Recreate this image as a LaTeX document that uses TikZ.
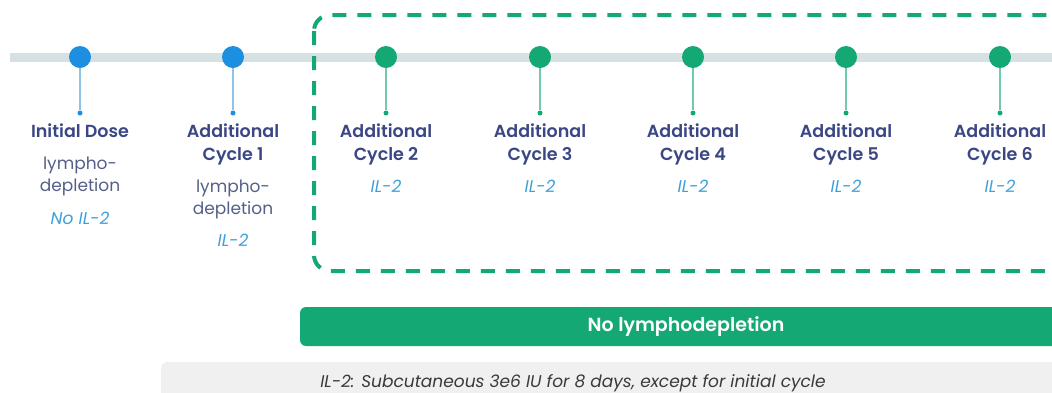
\documentclass[tikz,border=0pt]{standalone}
\usepackage{fontspec}
\setmainfont{Poppins}[BoldFont={Poppins SemiBold}]
\definecolor{bar}{HTML}{D6E1E4}
\definecolor{bluedot}{HTML}{1C8FE0}
\definecolor{greendot}{HTML}{14A874}
\definecolor{bluestem}{HTML}{8CC4EC}
\definecolor{greenstem}{HTML}{6FCBA8}
\definecolor{navy}{HTML}{3A4784}
\definecolor{bodytxt}{HTML}{55608A}
\definecolor{iltxt}{HTML}{3EA0DA}
\definecolor{notebg}{HTML}{F0F0F0}
\definecolor{notetxt}{HTML}{3A3A3A}
\tikzset{
  bigdot/.style={circle, inner sep=0pt, minimum size=22pt},
  smalldot/.style={circle, inner sep=0pt, minimum size=5pt},
  ttl/.style={anchor=base, inner sep=0pt, text=navy, font=\fontsize{17.5}{20}\selectfont\bfseries},
  bdy/.style={anchor=base, inner sep=0pt, text=bodytxt, font=\fontsize{17}{20}\selectfont},
  ilt/.style={anchor=base, inner sep=0pt, text=iltxt, font=\fontsize{17}{20}\selectfont\itshape},
}
\begin{document}
\begin{tikzpicture}[x=1pt,y=-1pt]
\useasboundingbox (0,0) rectangle (1052,392);
\clip (0,0) rectangle (1052,392);
% timeline bar
\coordinate (barL) at (10,57);
\coordinate (barR) at (1060,57);
\draw[bar, line width=9pt] (barL) -- (barR);
% dashed box
\draw[greendot, line width=4pt, dash pattern=on 14pt off 11pt, rounded corners=16pt]
  (314,15) rectangle (1080,271);
% dots and stems
\foreach \i/\x/\c/\s in {0/80/bluedot/bluestem,1/233/bluedot/bluestem,2/386/greendot/greenstem,3/540/greendot/greenstem,4/693/greendot/greenstem,5/846/greendot/greenstem,6/1000/greendot/greenstem}{
  \node[smalldot, fill=\c] (s\i) at (\x,113) {};
  \draw[\s, line width=1.3pt] (\x,57) -- (s\i);
  \node[bigdot, fill=\c] (d\i) at (\x,57) {};
}
% labels
\node[ttl] (t0) at (80,137) {Initial Dose};
\node[bdy] (b0a) at (80,169) {lympho-};
\node[bdy] (b0b) at (80,191) {depletion};
\node[ilt] (i0) at (80,224) {No IL-2};
\node[ttl] (t1a) at (233,137) {Additional};
\node[ttl] (t1b) at (233,160) {Cycle 1};
\node[bdy] (b1a) at (233,192) {lympho-};
\node[bdy] (b1b) at (233,214) {depletion};
\node[ilt] (i1) at (233,246) {IL-2};
\foreach \i/\x in {2/386,3/540,4/693,5/846,6/1000}{
  \node[ttl] (t\i a) at (\x,137) {Additional};
  \node[ttl] (t\i b) at (\x,160) {Cycle \i};
  \node[ilt] (i\i) at (\x,192) {IL-2};
}
% green bar
\fill[greendot, rounded corners=6pt] (300,307) rectangle (1080,346);
\node[text=white, font=\fontsize{19}{22}\selectfont\bfseries, inner sep=0pt] (nolymph) at (686,327) {No lymphodepletion};
% note box
\fill[notebg, rounded corners=6pt] (161,362) rectangle (1080,410);
\node[text=notetxt, font=\fontsize{17}{20}\selectfont\itshape, inner sep=0pt, anchor=base] (note) at (573,387) {IL-2: Subcutaneous 3e6 IU for 8 days, except for initial cycle};
\end{tikzpicture}
\end{document}
